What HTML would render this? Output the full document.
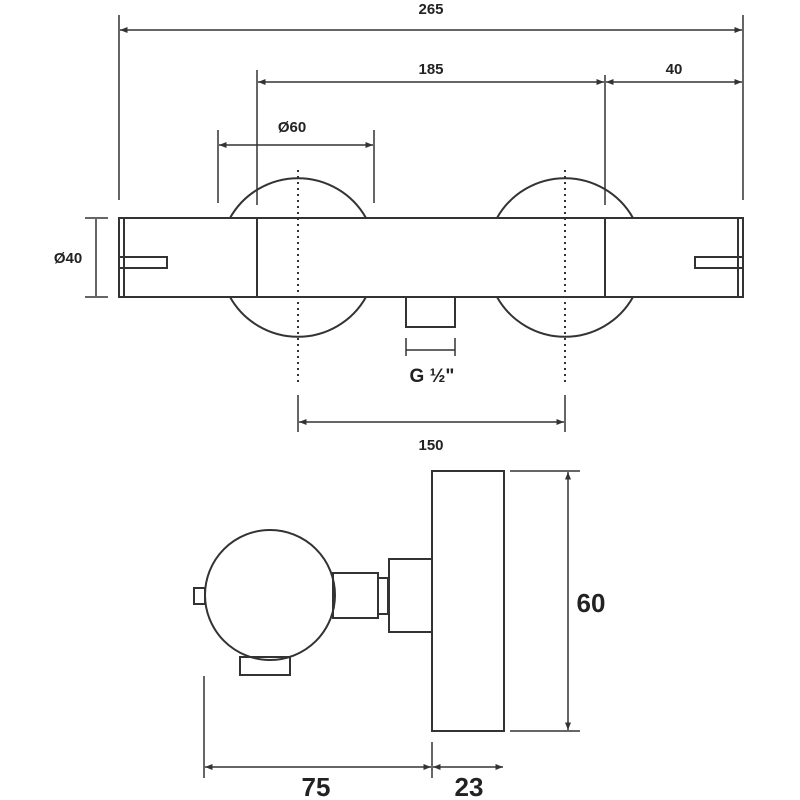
<!DOCTYPE html>
<html><head><style>body{margin:0;background:#fff}svg{display:block}</style></head><body>
<svg width="800" height="800" viewBox="0 0 800 800" xmlns="http://www.w3.org/2000/svg">
<defs><marker id="a" viewBox="0 0 10 10" refX="10" refY="5" markerWidth="5" markerHeight="5" orient="auto-start-reverse"><path d="M0,1 L10,5 L0,9z" fill="#333"/></marker></defs>
<g stroke="#333" stroke-width="2" fill="none">
<path d="M230,218 A78,78 0 0 1 366,218 M230,297 A78,78 0 0 0 366,297"/>
<path d="M497,218 A78,78 0 0 1 633,218 M497,297 A78,78 0 0 0 633,297"/>
<rect x="119" y="218" width="624" height="79"/>
<line x1="124" y1="218" x2="124" y2="297"/><line x1="738" y1="218" x2="738" y2="297"/>
<line x1="257" y1="218" x2="257" y2="297"/><line x1="605" y1="218" x2="605" y2="297"/>
<rect x="119" y="257" width="48" height="11"/><rect x="695" y="257" width="48" height="11"/>
<rect x="406" y="297" width="49" height="30"/>
<g stroke-dasharray="2,4"><line x1="298" y1="170" x2="298" y2="382"/><line x1="565" y1="170" x2="565" y2="382"/></g>
<g stroke-width="1.5">
<line x1="119" y1="15" x2="119" y2="200"/><line x1="743" y1="15" x2="743" y2="200"/>
<line x1="120" y1="30" x2="742" y2="30" marker-start="url(#a)" marker-end="url(#a)"/>
<line x1="257" y1="70" x2="257" y2="205"/><line x1="605" y1="75" x2="605" y2="205"/>
<line x1="258" y1="82" x2="604" y2="82" marker-start="url(#a)" marker-end="url(#a)"/>
<line x1="606" y1="82" x2="742" y2="82" marker-start="url(#a)" marker-end="url(#a)"/>
<line x1="218" y1="130" x2="218" y2="203"/><line x1="374" y1="130" x2="374" y2="203"/>
<line x1="219" y1="145" x2="373" y2="145" marker-start="url(#a)" marker-end="url(#a)"/>
<line x1="85" y1="218" x2="108" y2="218"/><line x1="85" y1="297" x2="108" y2="297"/>
<line x1="96" y1="219" x2="96" y2="296"/>
<line x1="406" y1="338" x2="406" y2="356"/><line x1="455" y1="338" x2="455" y2="356"/><line x1="406" y1="350" x2="455" y2="350"/>
<line x1="298" y1="395" x2="298" y2="432"/><line x1="565" y1="395" x2="565" y2="432"/>
<line x1="299" y1="422" x2="564" y2="422" marker-start="url(#a)" marker-end="url(#a)"/>
</g>
<circle cx="270" cy="595" r="65"/>
<rect x="194" y="588" width="11" height="16"/>
<rect x="240" y="657" width="50" height="18"/>
<rect x="333" y="573" width="45" height="45"/>
<rect x="378" y="578" width="10" height="36"/>
<rect x="389" y="559" width="43" height="73"/>
<rect x="432" y="471" width="72" height="260"/>
<g stroke-width="1.5">
<line x1="510" y1="471" x2="580" y2="471"/><line x1="510" y1="731" x2="580" y2="731"/>
<line x1="568" y1="472" x2="568" y2="730" marker-start="url(#a)" marker-end="url(#a)"/>
<line x1="204" y1="676" x2="204" y2="778"/><line x1="432" y1="742" x2="432" y2="778"/>
<line x1="205" y1="767" x2="431" y2="767" marker-start="url(#a)" marker-end="url(#a)"/>
<line x1="433" y1="767" x2="503" y2="767" marker-start="url(#a)" marker-end="url(#a)"/>
</g>
</g>
<g font-family="Liberation Sans, sans-serif" fill="#222" text-anchor="middle" font-weight="bold">
<text x="431" y="14" font-size="15">265</text>
<text x="431" y="74" font-size="15">185</text>
<text x="674" y="74" font-size="15">40</text>
<text x="292" y="132" font-size="15">Ø60</text>
<text x="68" y="263" font-size="15">Ø40</text>
<text x="432" y="382" font-size="19">G ½"</text>
<text x="431" y="450" font-size="15">150</text>
<text x="591" y="612" font-size="26">60</text>
<text x="316" y="796" font-size="26">75</text>
<text x="469" y="796" font-size="26">23</text>
</g>
</svg>
</body></html>
